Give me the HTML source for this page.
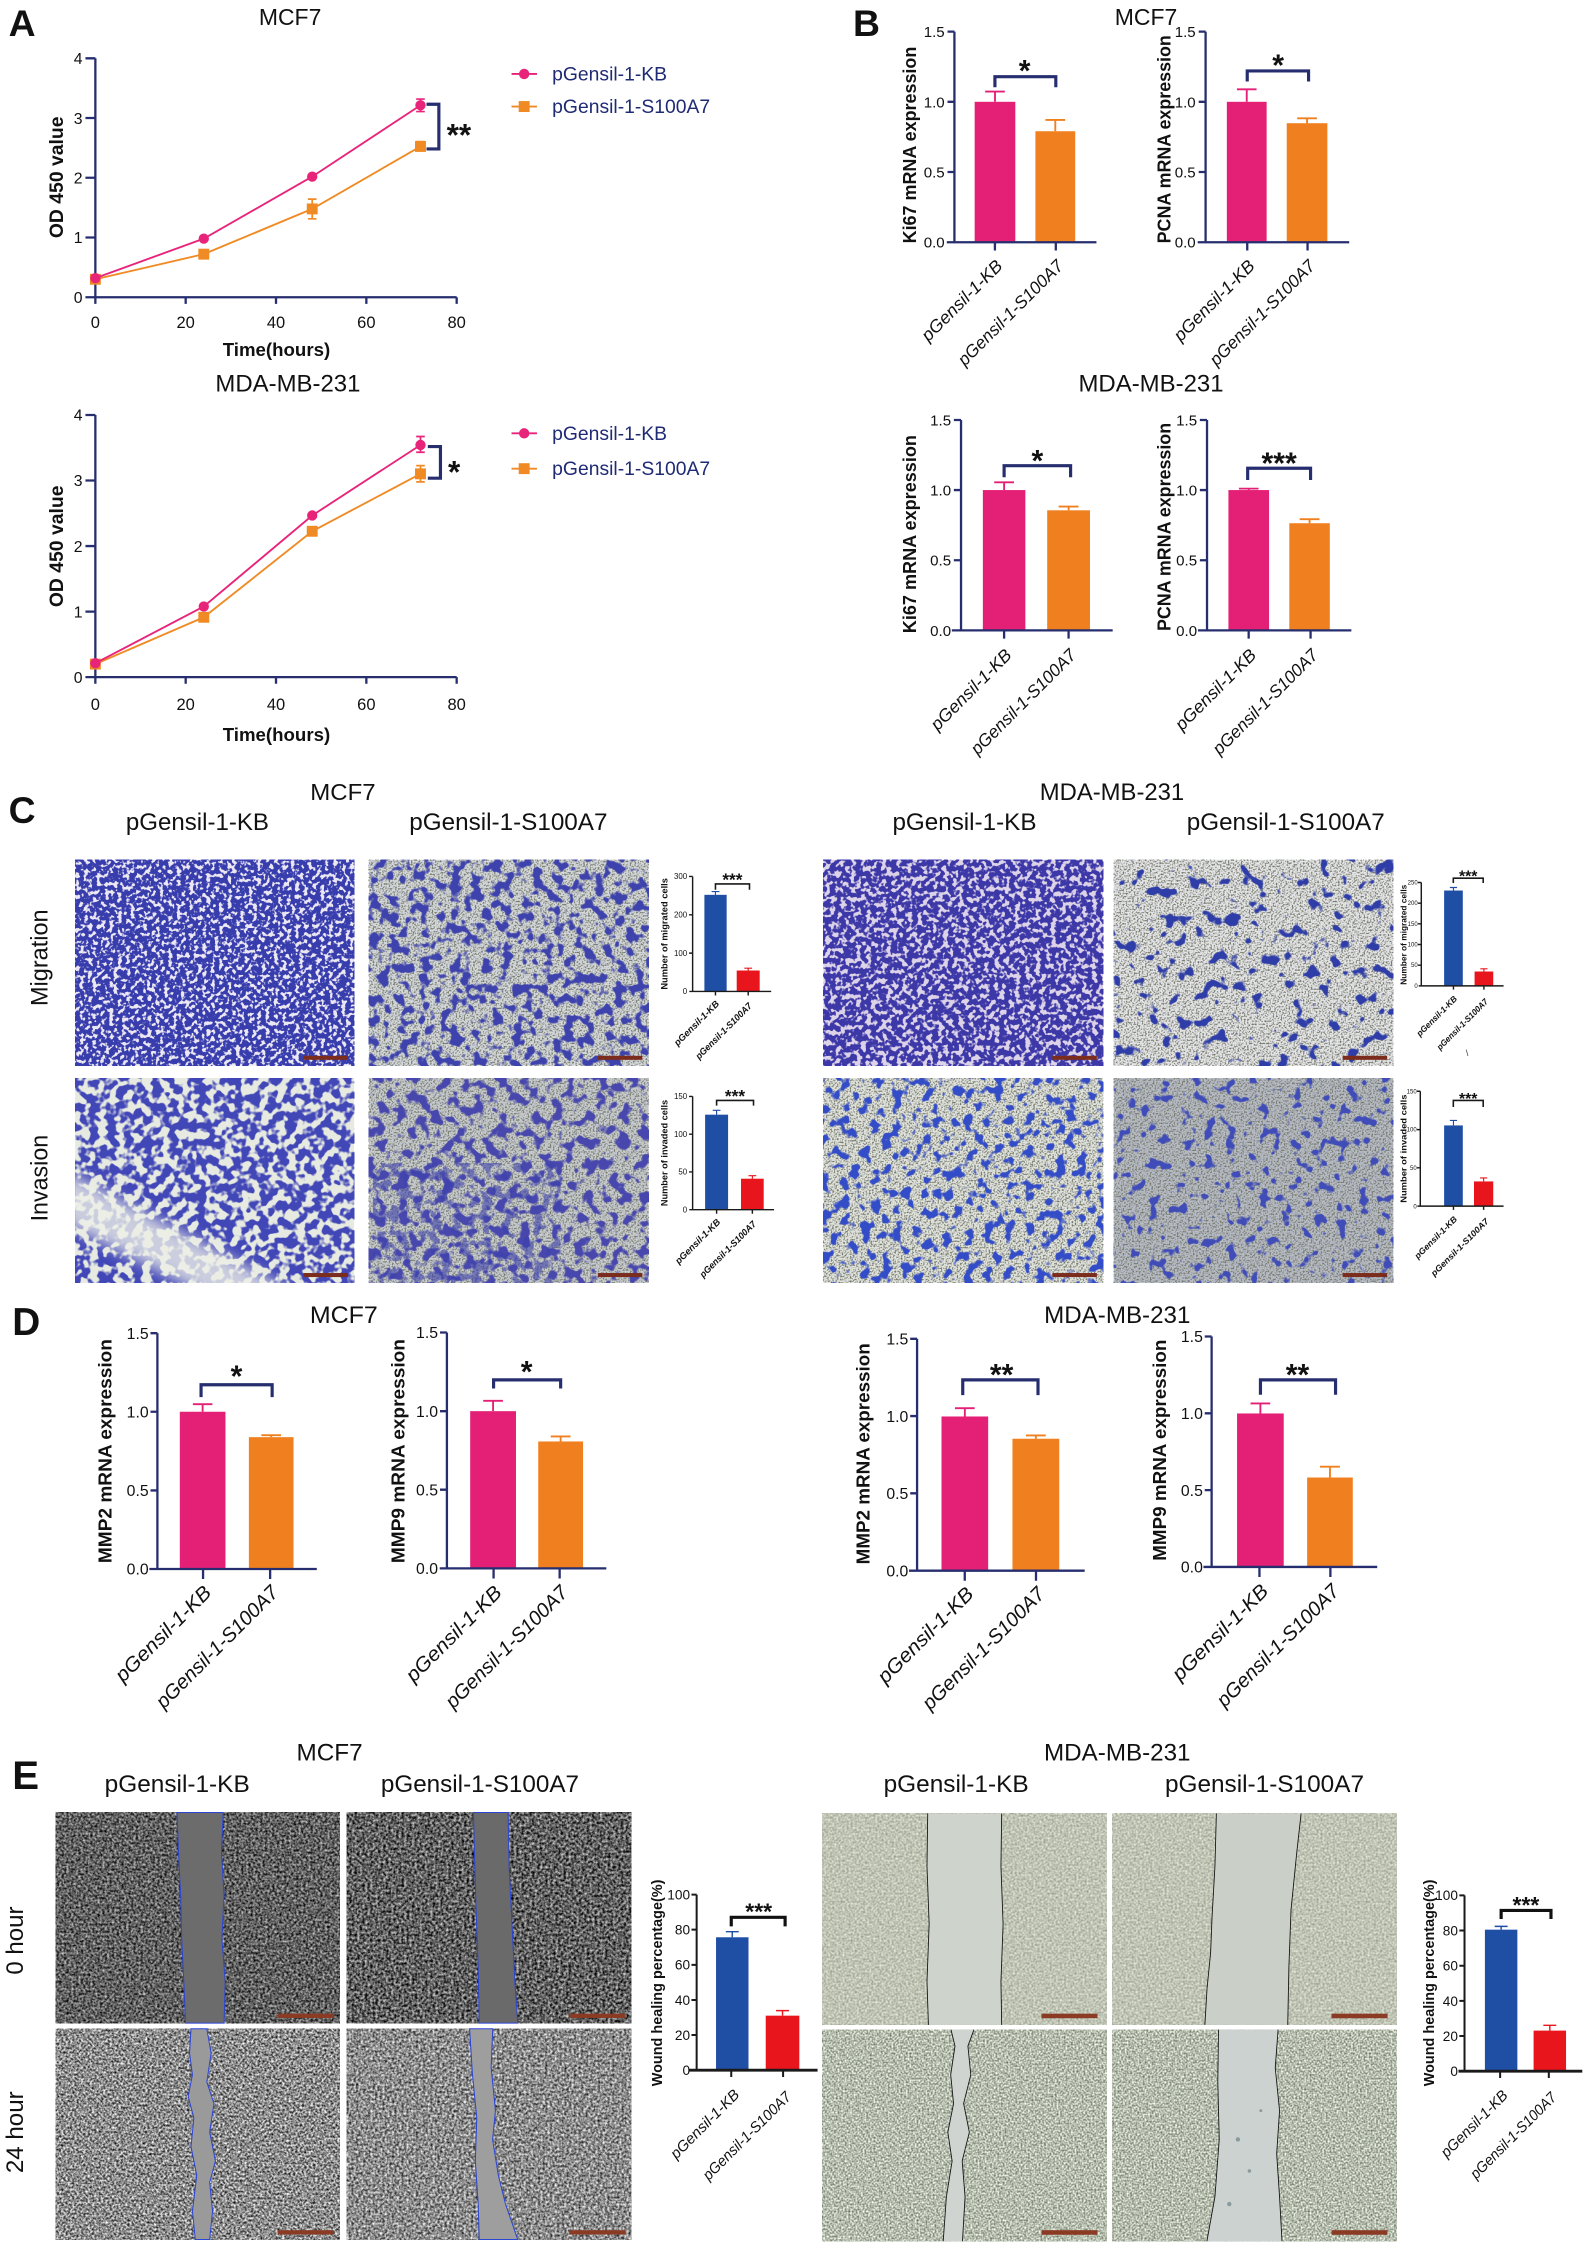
<!DOCTYPE html>
<html><head><meta charset="utf-8">
<style>
html,body{margin:0;padding:0;background:#fff;}
svg{display:block;}
text{font-family:"Liberation Sans",Arial,sans-serif;fill:#111;}
.ax{stroke:#272e6f;stroke-width:1.6;fill:none;}
.axk{stroke:#1a1a1a;stroke-width:1;fill:none;}
.axe{stroke:#1a1a1a;stroke-width:1.4;fill:none;}
.br{stroke:#272e6f;stroke-width:2.2;fill:none;}
.brk{stroke:#1a1a1a;stroke-width:1.1;fill:none;}
.bre{stroke:#111;stroke-width:2.2;fill:none;}
.tk{font-size:11px;}
.tkb{font-size:10.5px;}
.tkm{font-size:5.5px;}
.tke{font-size:9.5px;}
.yl{font-size:13px;font-weight:bold;}
.ylm{font-size:6.5px;font-weight:bold;}
.yle{font-size:10px;font-weight:bold;}
.xl{font-size:12.2px;font-style:italic;}
.xld{font-size:14px;font-style:italic;}
.xlm{font-size:6.5px;font-style:italic;font-weight:bold;}
.xle{font-size:10.5px;font-style:italic;}
.st{font-size:22px;font-weight:bold;}
.st21{font-size:21px;font-weight:bold;}
.st12{font-size:12px;font-weight:bold;}
.st16{font-size:16px;font-weight:bold;}
.ttl{font-size:16.5px;}
.hd{font-size:16.5px;}
.lt{font-size:16.5px;}
.pl{font-size:26px;font-weight:bold;}
.lg{font-size:13.5px;fill:#1f2a74;}
.ab{font-size:13px;font-weight:bold;}
</style></head><body>
<svg width="1584" height="2250" viewBox="0 0 1103 1567" preserveAspectRatio="none" xmlns="http://www.w3.org/2000/svg">
<defs>
<filter id="fA" x="0" y="0" width="1" height="1" color-interpolation-filters="sRGB"><feTurbulence type="fractalNoise" baseFrequency="0.34" numOctaves="2" seed="4"/><feColorMatrix type="matrix" values="0 0 0 0 0.22 0 0 0 0 0.24 0 0 0 0 0.68 10 0 0 0 -3.85"/></filter>
<filter id="fB" x="0" y="0" width="1" height="1" color-interpolation-filters="sRGB"><feTurbulence type="fractalNoise" baseFrequency="0.28" numOctaves="2" seed="8"/><feColorMatrix type="matrix" values="0 0 0 0 0.24 0 0 0 0 0.22 0 0 0 0 0.66 10 0 0 0 -4.0"/></filter>
<filter id="fC" x="0" y="0" width="1" height="1" color-interpolation-filters="sRGB"><feTurbulence type="fractalNoise" baseFrequency="0.16" numOctaves="2" seed="11"/><feColorMatrix type="matrix" values="0 0 0 0 0.26 0 0 0 0 0.28 0 0 0 0 0.72 9 0 0 0 -3.9"/></filter>
<filter id="fD" x="0" y="0" width="1" height="1" color-interpolation-filters="sRGB"><feTurbulence type="fractalNoise" baseFrequency="0.14" numOctaves="2" seed="3"/><feColorMatrix type="matrix" values="0 0 0 0 0.24 0 0 0 0 0.26 0 0 0 0 0.68 10 0 0 0 -5.1"/></filter>
<filter id="fE" x="0" y="0" width="1" height="1" color-interpolation-filters="sRGB"><feTurbulence type="fractalNoise" baseFrequency="0.13" numOctaves="2" seed="21"/><feColorMatrix type="matrix" values="0 0 0 0 0.28 0 0 0 0 0.28 0 0 0 0 0.68 10 0 0 0 -5.2"/></filter>
<filter id="fF" x="0" y="0" width="1" height="1" color-interpolation-filters="sRGB"><feTurbulence type="fractalNoise" baseFrequency="0.11" numOctaves="2" seed="5"/><feColorMatrix type="matrix" values="0 0 0 0 0.18 0 0 0 0 0.24 0 0 0 0 0.66 14 0 0 0 -8.5"/></filter>
<filter id="fG" x="0" y="0" width="1" height="1" color-interpolation-filters="sRGB"><feTurbulence type="fractalNoise" baseFrequency="0.14" numOctaves="2" seed="9"/><feColorMatrix type="matrix" values="0 0 0 0 0.20 0 0 0 0 0.30 0 0 0 0 0.78 11 0 0 0 -6.0"/></filter>
<filter id="fH" x="0" y="0" width="1" height="1" color-interpolation-filters="sRGB"><feTurbulence type="fractalNoise" baseFrequency="0.13" numOctaves="2" seed="13"/><feColorMatrix type="matrix" values="0 0 0 0 0.25 0 0 0 0 0.30 0 0 0 0 0.72 13 0 0 0 -7.8"/></filter>
<filter id="fS" x="0" y="0" width="1" height="1" color-interpolation-filters="sRGB"><feTurbulence type="fractalNoise" baseFrequency="0.9" numOctaves="1" seed="2"/><feColorMatrix type="matrix" values="0 0 0 0 0.45 0 0 0 0 0.47 0 0 0 0 0.42 4 0 0 0 -1.8"/></filter>
<filter id="fE1" x="0" y="0" width="1" height="1" color-interpolation-filters="sRGB"><feTurbulence type="fractalNoise" baseFrequency="0.6" numOctaves="2" seed="6"/><feColorMatrix type="matrix" values="1.2 0 0 0 -0.22 1.2 0 0 0 -0.22 1.2 0 0 0 -0.22 0 0 0 0 1"/></filter>
<filter id="fE1b" x="0" y="0" width="1" height="1" color-interpolation-filters="sRGB"><feTurbulence type="fractalNoise" baseFrequency="0.55" numOctaves="2" seed="16"/><feColorMatrix type="matrix" values="1.3 0 0 0 -0.27 1.3 0 0 0 -0.27 1.3 0 0 0 -0.27 0 0 0 0 1"/></filter>
<filter id="fE2" x="0" y="0" width="1" height="1" color-interpolation-filters="sRGB"><feTurbulence type="fractalNoise" baseFrequency="0.65" numOctaves="2" seed="7"/><feColorMatrix type="matrix" values="1.5 0 0 0 -0.2 1.5 0 0 0 -0.2 1.5 0 0 0 -0.2 0 0 0 0 1"/></filter>
<filter id="fE2b" x="0" y="0" width="1" height="1" color-interpolation-filters="sRGB"><feTurbulence type="fractalNoise" baseFrequency="0.6" numOctaves="2" seed="17"/><feColorMatrix type="matrix" values="1.3 0 0 0 -0.1 1.3 0 0 0 -0.1 1.3 0 0 0 -0.1 0 0 0 0 1"/></filter>
<filter id="fM1" x="0" y="0" width="1" height="1" color-interpolation-filters="sRGB"><feTurbulence type="fractalNoise" baseFrequency="0.7" numOctaves="1" seed="8"/><feColorMatrix type="matrix" values="0.5 0 0 0 0.50 0.5 0 0 0 0.52 0.5 0 0 0 0.46 0 0 0 0 1"/></filter>
<filter id="fM2" x="0" y="0" width="1" height="1" color-interpolation-filters="sRGB"><feTurbulence type="fractalNoise" baseFrequency="0.8" numOctaves="1" seed="10"/><feColorMatrix type="matrix" values="1.0 0 0 0 0.21 1.0 0 0 0 0.24 1.0 0 0 0 0.18 0 0 0 0 1"/></filter>
<filter id="blur5"><feGaussianBlur stdDeviation="5"/></filter>
<clipPath id="cpC5"><rect x="52.3" y="750.8" width="194.3" height="142.7"/></clipPath>
</defs>

<!-- ============ PANEL A ============ -->
<text class="pl" x="6" y="25">A</text>
<text class="ttl" x="202" y="17.4" text-anchor="middle" style="font-size:16px">MCF7</text>
<path class="ax" d="M66.4,40.6 V207 M59.5,207 H318 M59.5,40.6 H66.4 M59.5,82.2 H66.4 M59.5,123.8 H66.4 M59.5,165.4 H66.4 M66.4,207 V211.6 M129.3,207 V211.6 M192.2,207 V211.6 M255.1,207 V211.6 M318,207 V211.6"/>
<g class="tk" text-anchor="end"><text x="57.5" y="44.6">4</text><text x="57.5" y="86.2">3</text><text x="57.5" y="127.8">2</text><text x="57.5" y="169.4">1</text><text x="57.5" y="211">0</text></g>
<g class="tk" text-anchor="middle" style="font-size:11.5px"><text x="66.4" y="228.5">0</text><text x="129.3" y="228.5">20</text><text x="192.2" y="228.5">40</text><text x="255.1" y="228.5">60</text><text x="318" y="228.5">80</text></g>
<text class="ab" x="192.5" y="248" text-anchor="middle">Time(hours)</text>
<text class="ab" transform="translate(44,123.5) rotate(-90)" text-anchor="middle" style="font-size:13.5px">OD 450 value</text>
<polyline points="66.4,194.5 141.9,177 217.4,145.5 292.8,102" fill="none" stroke="#f08a24" stroke-width="1.3"/>
<path d="M217.4,138.7 V152.4 M214.4,138.7 H220.4 M214.4,152.4 H220.4 M292.8,98.6 V105.6 M289.8,98.6 H295.8" stroke="#f08a24" stroke-width="1.2" fill="none"/>
<g fill="#f08a24"><rect x="62.6" y="190.7" width="7.6" height="7.6"/><rect x="138.1" y="173.2" width="7.6" height="7.6"/><rect x="213.6" y="141.7" width="7.6" height="7.6"/><rect x="289" y="98.2" width="7.6" height="7.6"/></g>
<polyline points="66.4,193.7 141.9,166.2 217.4,123 292.8,73.3" fill="none" stroke="#e8237a" stroke-width="1.3"/>
<path d="M292.8,69 V77.7 M289.8,69 H295.8 M289.8,77.7 H295.8" stroke="#e8237a" stroke-width="1.2" fill="none"/>
<g fill="#e8237a"><circle cx="66.4" cy="193.7" r="3.6"/><circle cx="141.9" cy="166.2" r="3.6"/><circle cx="217.4" cy="123" r="3.6"/><circle cx="292.8" cy="73.3" r="3.6"/></g>
<path class="br" d="M297,72.6 H305.6 V103.7 H297"/>
<text class="st" x="311" y="101.5">**</text>
<path d="M356.2,51.5 H373.9" stroke="#e8237a" stroke-width="1.3"/><circle cx="365" cy="51.5" r="3.6" fill="#e8237a"/>
<text class="lg" x="384.5" y="56" textLength="80" lengthAdjust="spacingAndGlyphs">pGensil-1-KB</text>
<path d="M356.2,74.2 H373.9" stroke="#f08a24" stroke-width="1.3"/><rect x="361.2" y="70.4" width="7.6" height="7.6" fill="#f08a24"/>
<text class="lg" x="384.5" y="78.7" textLength="110" lengthAdjust="spacingAndGlyphs">pGensil-1-S100A7</text>

<text class="ttl" x="200.5" y="272.8" text-anchor="middle" textLength="101" lengthAdjust="spacingAndGlyphs">MDA-MB-231</text>
<path class="ax" d="M66.4,289 V471.6 M59.5,471.6 H318 M59.5,289 H66.4 M59.5,334.65 H66.4 M59.5,380.3 H66.4 M59.5,425.95 H66.4 M66.4,471.6 V476.2 M129.3,471.6 V476.2 M192.2,471.6 V476.2 M255.1,471.6 V476.2 M318,471.6 V476.2"/>
<g class="tk" text-anchor="end"><text x="57.5" y="293">4</text><text x="57.5" y="338.6">3</text><text x="57.5" y="384.3">2</text><text x="57.5" y="430">1</text><text x="57.5" y="475.6">0</text></g>
<g class="tk" text-anchor="middle" style="font-size:11.5px"><text x="66.4" y="494.4">0</text><text x="129.3" y="494.4">20</text><text x="192.2" y="494.4">40</text><text x="255.1" y="494.4">60</text><text x="318" y="494.4">80</text></g>
<text class="ab" x="192.5" y="516" text-anchor="middle">Time(hours)</text>
<text class="ab" transform="translate(44,380.5) rotate(-90)" text-anchor="middle" style="font-size:13.5px">OD 450 value</text>
<polyline points="66.4,462.5 141.9,429.9 217.4,370 292.8,330" fill="none" stroke="#f08a24" stroke-width="1.3"/>
<path d="M292.8,324.3 V335.6 M289.8,324.3 H295.8 M289.8,335.6 H295.8" stroke="#f08a24" stroke-width="1.2" fill="none"/>
<g fill="#f08a24"><rect x="62.6" y="458.7" width="7.6" height="7.6"/><rect x="138.1" y="426.1" width="7.6" height="7.6"/><rect x="213.6" y="366.2" width="7.6" height="7.6"/><rect x="289" y="326.2" width="7.6" height="7.6"/></g>
<polyline points="66.4,461.9 141.9,422.4 217.4,359 292.8,309.9" fill="none" stroke="#e8237a" stroke-width="1.3"/>
<path d="M292.8,304 V315 M289.8,304 H295.8 M289.8,315 H295.8" stroke="#e8237a" stroke-width="1.2" fill="none"/>
<g fill="#e8237a"><circle cx="66.4" cy="461.9" r="3.6"/><circle cx="141.9" cy="422.4" r="3.6"/><circle cx="217.4" cy="359" r="3.6"/><circle cx="292.8" cy="309.9" r="3.6"/></g>
<path class="br" d="M297.9,311 H306.7 V333 H297.9"/>
<text class="st" x="316.2" y="336" text-anchor="middle">*</text>
<path d="M356.2,301.8 H373.9" stroke="#e8237a" stroke-width="1.3"/><circle cx="365" cy="301.8" r="3.6" fill="#e8237a"/>
<text class="lg" x="384.5" y="306.3" textLength="80" lengthAdjust="spacingAndGlyphs">pGensil-1-KB</text>
<path d="M356.2,326.4 H373.9" stroke="#f08a24" stroke-width="1.3"/><rect x="361.2" y="322.6" width="7.6" height="7.6" fill="#f08a24"/>
<text class="lg" x="384.5" y="330.9" textLength="110" lengthAdjust="spacingAndGlyphs">pGensil-1-S100A7</text>

<!-- ============ PANEL B ============ -->
<text class="pl" x="594" y="25">B</text>
<text class="ttl" x="798" y="17.4" text-anchor="middle" style="font-size:16px">MCF7</text>
<rect x="678.7" y="70.9" width="28.3" height="97.8" fill="#e41f76"/>
<path d="M692.85,70.9 V63.8 M686,63.8 H699.7" stroke="#e41f76" stroke-width="1.3"/>
<rect x="721" y="91.4" width="27.7" height="77.3" fill="#f0801f"/>
<path d="M734.85,91.4 V83.5 M728,83.5 H741.7" stroke="#f0801f" stroke-width="1.3"/>
<path class="ax" d="M664.6,22 V168.7 M659.3,168.7 H763.5 M659.8,22 H664.6 M659.8,70.9 H664.6 M659.8,119.8 H664.6 M692.8,168.7 V174.5 M735.2,168.7 V174.5"/>
<path class="br" d="M692.8,60.8 V53.4 H735.2 V60.8"/>
<text class="st21" x="713.5" y="56.3" text-anchor="middle">*</text>
<g class="tkb" text-anchor="end"><text x="657.8" y="25.8">1.5</text><text x="657.8" y="74.7">1.0</text><text x="657.8" y="123.6">0.5</text><text x="657.8" y="172.5">0.0</text></g>
<text class="yl" transform="translate(638,101) rotate(-90)" text-anchor="middle" textLength="137" lengthAdjust="spacingAndGlyphs">Ki67 mRNA expression</text>
<text class="xl" transform="translate(698.8,186) rotate(-45)" text-anchor="end" textLength="74" lengthAdjust="spacingAndGlyphs">pGensil-1-KB</text>
<text class="xl" transform="translate(741.2,186) rotate(-45)" text-anchor="end" textLength="98" lengthAdjust="spacingAndGlyphs">pGensil-1-S100A7</text>
<rect x="854.3" y="70.9" width="27.7" height="97.8" fill="#e41f76"/>
<path d="M868.15,70.9 V62.2 M861.3,62.2 H875" stroke="#e41f76" stroke-width="1.3"/>
<rect x="896" y="85.8" width="28.3" height="82.9" fill="#f0801f"/>
<path d="M910.15,85.8 V82.4 M903.3,82.4 H917" stroke="#f0801f" stroke-width="1.3"/>
<path class="ax" d="M839.5,22 V168.7 M834,168.7 H939.5 M834.7,22 H839.5 M834.7,70.9 H839.5 M834.7,119.8 H839.5 M868.5,168.7 V174.5 M910.5,168.7 V174.5"/>
<path class="br" d="M868.5,56.8 V49.4 H911.2 V56.8"/>
<text class="st21" x="890" y="52.7" text-anchor="middle">*</text>
<g class="tkb" text-anchor="end"><text x="832.6" y="25.8">1.5</text><text x="832.6" y="74.7">1.0</text><text x="832.6" y="123.6">0.5</text><text x="832.6" y="172.5">0.0</text></g>
<text class="yl" transform="translate(815,97) rotate(-90)" text-anchor="middle" textLength="145" lengthAdjust="spacingAndGlyphs">PCNA mRNA expression</text>
<text class="xl" transform="translate(874.5,186) rotate(-45)" text-anchor="end" textLength="74" lengthAdjust="spacingAndGlyphs">pGensil-1-KB</text>
<text class="xl" transform="translate(916.5,186) rotate(-45)" text-anchor="end" textLength="98" lengthAdjust="spacingAndGlyphs">pGensil-1-S100A7</text>

<text class="ttl" x="801.5" y="272.8" text-anchor="middle" textLength="101" lengthAdjust="spacingAndGlyphs">MDA-MB-231</text>
<rect x="684.4" y="341.3" width="29.6" height="97.7" fill="#e41f76"/>
<path d="M699.2,341.3 V335.9 M692.3,335.9 H706.1" stroke="#e41f76" stroke-width="1.3"/>
<rect x="729.2" y="355.4" width="29.8" height="83.6" fill="#f0801f"/>
<path d="M744.1,355.4 V352.8 M737.2,352.8 H751" stroke="#f0801f" stroke-width="1.3"/>
<path class="ax" d="M669.2,292.5 V439 M662.8,439 H774.8 M664.2,292.5 H669.2 M664.2,341.3 H669.2 M664.2,390.2 H669.2 M699.2,439 V444.8 M744.1,439 V444.8"/>
<path class="br" d="M699.2,332.4 V324.3 H745.5 V332.4"/>
<text class="st21" x="722.4" y="327.9" text-anchor="middle">*</text>
<g class="tkb" text-anchor="end"><text x="662.3" y="296.3">1.5</text><text x="662.3" y="345.1">1.0</text><text x="662.3" y="394">0.5</text><text x="662.3" y="442.8">0.0</text></g>
<text class="yl" transform="translate(638,372) rotate(-90)" text-anchor="middle" textLength="138" lengthAdjust="spacingAndGlyphs">Ki67 mRNA expression</text>
<text class="xl" transform="translate(705.2,457) rotate(-45)" text-anchor="end" textLength="74" lengthAdjust="spacingAndGlyphs">pGensil-1-KB</text>
<text class="xl" transform="translate(750.1,457) rotate(-45)" text-anchor="end" textLength="98" lengthAdjust="spacingAndGlyphs">pGensil-1-S100A7</text>
<rect x="855.4" y="341.3" width="28.3" height="97.7" fill="#e41f76"/>
<path d="M869.55,341.3 V340.3 M862.7,340.3 H876.4" stroke="#e41f76" stroke-width="1.3"/>
<rect x="897.8" y="364.4" width="28.2" height="74.6" fill="#f0801f"/>
<path d="M911.9,364.4 V361.6 M905,361.6 H918.8" stroke="#f0801f" stroke-width="1.3"/>
<path class="ax" d="M840.5,292.5 V439 M834.2,439 H941 M835.5,292.5 H840.5 M835.5,341.3 H840.5 M835.5,390.2 H840.5 M869.5,439 V444.8 M912.6,439 V444.8"/>
<path class="br" d="M868.8,334.3 V326.1 H912.6 V334.3"/>
<text class="st21" x="890.7" y="329.6" text-anchor="middle">***</text>
<g class="tkb" text-anchor="end"><text x="833.6" y="296.3">1.5</text><text x="833.6" y="345.1">1.0</text><text x="833.6" y="394">0.5</text><text x="833.6" y="442.8">0.0</text></g>
<text class="yl" transform="translate(815,367) rotate(-90)" text-anchor="middle" textLength="145" lengthAdjust="spacingAndGlyphs">PCNA mRNA expression</text>
<text class="xl" transform="translate(875.5,457) rotate(-45)" text-anchor="end" textLength="74" lengthAdjust="spacingAndGlyphs">pGensil-1-KB</text>
<text class="xl" transform="translate(918.6,457) rotate(-45)" text-anchor="end" textLength="98" lengthAdjust="spacingAndGlyphs">pGensil-1-S100A7</text>

<!-- ============ PANEL C ============ -->
<text class="pl" x="6" y="573.3">C</text>
<text class="ttl" x="238.8" y="557" text-anchor="middle" style="font-size:16px" textLength="45.5" lengthAdjust="spacingAndGlyphs">MCF7</text>
<text class="ttl" x="774.3" y="557" text-anchor="middle" textLength="100.6" lengthAdjust="spacingAndGlyphs">MDA-MB-231</text>
<text class="hd" x="137.5" y="578" text-anchor="middle" textLength="99.6" lengthAdjust="spacingAndGlyphs">pGensil-1-KB</text>
<text class="hd" x="354" y="578" text-anchor="middle" textLength="138" lengthAdjust="spacingAndGlyphs">pGensil-1-S100A7</text>
<text class="hd" x="671.6" y="578" text-anchor="middle" textLength="100.3" lengthAdjust="spacingAndGlyphs">pGensil-1-KB</text>
<text class="hd" x="895.3" y="578" text-anchor="middle" textLength="137.8" lengthAdjust="spacingAndGlyphs">pGensil-1-S100A7</text>
<text class="lt" transform="translate(33,667) rotate(-90)" text-anchor="middle" textLength="67.3" lengthAdjust="spacingAndGlyphs">Migration</text>
<text class="lt" transform="translate(33,820.5) rotate(-90)" text-anchor="middle" textLength="60.3" lengthAdjust="spacingAndGlyphs">Invasion</text>

<rect x="52.3" y="598.8" width="194.3" height="143.4" fill="#ebe7f3"/>
<rect x="52.3" y="598.8" width="194.3" height="143.4" filter="url(#fA)"/>
<rect x="256.9" y="598.8" width="194.7" height="143.4" fill="#d6d9dc"/>
<rect x="256.9" y="598.8" width="194.7" height="143.4" filter="url(#fS)"/>
<rect x="256.9" y="598.8" width="194.7" height="143.4" filter="url(#fD)"/>
<rect x="573.4" y="598.8" width="194.7" height="143.4" fill="#dcd3e8"/>
<rect x="573.4" y="598.8" width="194.7" height="143.4" filter="url(#fB)"/>
<rect x="775.5" y="598.8" width="194.7" height="143.4" fill="#e6e6e8"/>
<rect x="775.5" y="598.8" width="194.7" height="143.4" filter="url(#fS)"/>
<rect x="775.5" y="598.8" width="194.7" height="143.4" filter="url(#fF)"/>
<rect x="52.3" y="750.8" width="194.3" height="142.7" fill="#e6eae0"/>
<rect x="52.3" y="750.8" width="194.3" height="142.7" filter="url(#fC)"/>
<g clip-path="url(#cpC5)"><polygon points="40,812 40,850 150,905 215,905" fill="#eef0e8" opacity="0.8" filter="url(#blur5)"/></g>
<rect x="256.9" y="750.8" width="194.7" height="142.7" fill="#c9ccd0"/>
<rect x="256.9" y="750.8" width="194.7" height="142.7" filter="url(#fS)"/>
<rect x="256.9" y="750.8" width="194.7" height="142.7" filter="url(#fE)"/>
<rect x="260" y="810" width="130" height="83.5" filter="url(#fD)" opacity="0.6"/>
<rect x="573.4" y="750.8" width="194.7" height="142.7" fill="#e2e4de"/>
<rect x="573.4" y="750.8" width="194.7" height="142.7" filter="url(#fS)"/>
<rect x="573.4" y="750.8" width="194.7" height="142.7" filter="url(#fG)"/>
<rect x="775.5" y="750.8" width="194.7" height="142.7" fill="#b8bcc6"/>
<rect x="775.5" y="750.8" width="194.7" height="142.7" filter="url(#fS)"/>
<rect x="775.5" y="750.8" width="194.7" height="142.7" filter="url(#fH)"/>
<g fill="#7b2c1c"><rect x="211.3" y="735.3" width="31" height="2.8"/><rect x="416.3" y="735.3" width="31" height="2.8"/><rect x="732.8" y="735.3" width="31" height="2.8"/><rect x="934.9" y="735.3" width="31" height="2.8"/><rect x="211.3" y="886.6" width="31" height="2.8"/><rect x="416.3" y="886.6" width="31" height="2.8"/><rect x="732.8" y="886.6" width="31" height="2.8"/><rect x="934.9" y="886.6" width="31" height="2.8"/></g>

<!-- C mini 1 -->
<rect x="490.5" y="623.2" width="15.5" height="67.3" fill="#1f4ea5"/>
<path d="M498.2,623.2 V620.9 M495.5,620.9 H501" stroke="#1f4ea5" stroke-width="0.8"/>
<rect x="513" y="675.9" width="16" height="14.6" fill="#e8161c"/>
<path d="M521,675.9 V674.3 M518.3,674.3 H523.7" stroke="#e8161c" stroke-width="0.8"/>
<path class="axk" d="M482.3,610.4 V690.5 M480,690.5 H537 M479.8,610.4 H482.3 M479.8,637.1 H482.3 M479.8,663.8 H482.3 M498.2,690.5 V693.3 M521,690.5 V693.3"/>
<path class="brk" d="M498.2,619.7 V615.6 H521.9 V619.7"/>
<text class="st12" x="510" y="616.8" text-anchor="middle">***</text>
<g class="tkm" text-anchor="end"><text x="478.5" y="612.3">300</text><text x="478.5" y="639">200</text><text x="478.5" y="665.7">100</text><text x="478.5" y="692.4">0</text></g>
<text class="ylm" transform="translate(464.7,650.4) rotate(-90)" text-anchor="middle" textLength="77.7" lengthAdjust="spacingAndGlyphs">Number of migrated cells</text>
<text class="xlm" transform="translate(501.2,699.5) rotate(-45)" text-anchor="end" textLength="41.4" lengthAdjust="spacingAndGlyphs">pGensil-1-KB</text>
<text class="xlm" transform="translate(524,701) rotate(-45)" text-anchor="end" textLength="52.5" lengthAdjust="spacingAndGlyphs">pGensil-1-S100A7</text>
<!-- C mini 2 -->
<rect x="491" y="776.3" width="16" height="66.2" fill="#1f4ea5"/>
<path d="M499,776.3 V773.3 M496.3,773.3 H501.7" stroke="#1f4ea5" stroke-width="0.8"/>
<rect x="516" y="820.9" width="15.8" height="21.6" fill="#e8161c"/>
<path d="M523.9,820.9 V818.8 M521.2,818.8 H526.6" stroke="#e8161c" stroke-width="0.8"/>
<path class="axk" d="M482.3,763.6 V842.5 M480,842.5 H539 M479.8,763.6 H482.3 M479.8,789.9 H482.3 M479.8,816.2 H482.3 M499,842.5 V845.3 M523.9,842.5 V845.3"/>
<path class="brk" d="M499,770 V766.4 H524.7 V770"/>
<text class="st12" x="511.8" y="767.5" text-anchor="middle">***</text>
<g class="tkm" text-anchor="end"><text x="478.5" y="765.5">150</text><text x="478.5" y="791.8">100</text><text x="478.5" y="818.1">50</text><text x="478.5" y="844.4">0</text></g>
<text class="ylm" transform="translate(464.7,803) rotate(-90)" text-anchor="middle" textLength="74" lengthAdjust="spacingAndGlyphs">Number of invaded cells</text>
<text class="xlm" transform="translate(502,851.5) rotate(-45)" text-anchor="end" textLength="41.4" lengthAdjust="spacingAndGlyphs">pGensil-1-KB</text>
<text class="xlm" transform="translate(526.9,853) rotate(-45)" text-anchor="end" textLength="52.5" lengthAdjust="spacingAndGlyphs">pGensil-1-S100A7</text>
<!-- C mini 3 -->
<rect x="1005.6" y="620.2" width="13" height="66.4" fill="#1f4ea5"/>
<path d="M1012.1,620.2 V618.1 M1009.6,618.1 H1014.6" stroke="#1f4ea5" stroke-width="0.8"/>
<rect x="1026.8" y="676.6" width="13" height="10" fill="#e8161c"/>
<path d="M1033.3,676.6 V674.7 M1030.8,674.7 H1035.8" stroke="#e8161c" stroke-width="0.8"/>
<path class="axk" d="M989.7,614.6 V686.6 M987.9,686.6 H1047 M987.4,614.6 H989.7 M987.4,629 H989.7 M987.4,643.4 H989.7 M987.4,657.8 H989.7 M987.4,672.2 H989.7 M1012.1,686.6 V689.2 M1033.3,686.6 V689.2"/>
<path class="brk" d="M1012,615 V611.6 H1032.8 V615"/>
<text class="st12" x="1022.4" y="614" text-anchor="middle" style="font-size:11px">***</text>
<g class="tkm" text-anchor="end" style="font-size:4.2px"><text x="987.2" y="616">250</text><text x="987.2" y="630.4">200</text><text x="987.2" y="644.8">150</text><text x="987.2" y="659.2">100</text><text x="987.2" y="673.6">50</text><text x="987.2" y="688">0</text></g>
<text class="ylm" transform="translate(979.3,651) rotate(-90)" text-anchor="middle" textLength="69.7" lengthAdjust="spacingAndGlyphs" style="font-size:6px">Number of migrated cells</text>
<text class="xlm" transform="translate(1015,696) rotate(-45)" text-anchor="end" textLength="37" lengthAdjust="spacingAndGlyphs" style="font-size:6px">pGensil-1-KB</text>
<text class="xlm" transform="translate(1036.5,698) rotate(-45)" text-anchor="end" textLength="47.5" lengthAdjust="spacingAndGlyphs" style="font-size:6px">pGensil-1-S100A7</text>
<path d="M1021,731 L1022.2,735.5" stroke="#444" stroke-width="0.5"/>
<!-- C mini 4 -->
<rect x="1005.6" y="783.8" width="13" height="56.2" fill="#1f4ea5"/>
<path d="M1012.1,783.8 V780.3 M1009.6,780.3 H1014.6" stroke="#1f4ea5" stroke-width="0.8"/>
<rect x="1026.4" y="822.8" width="13.4" height="17.2" fill="#e8161c"/>
<path d="M1033.1,822.8 V820.4 M1030.6,820.4 H1035.6" stroke="#e8161c" stroke-width="0.8"/>
<path class="axk" d="M989,760 V840 M987,840 H1047 M986.7,760 H989 M986.7,786.7 H989 M986.7,813.3 H989 M1012.1,840 V842.6 M1033.1,840 V842.6"/>
<path class="brk" d="M1012,771 V766.4 H1032.8 V771"/>
<text class="st12" x="1022.4" y="769" text-anchor="middle" style="font-size:11px">***</text>
<g class="tkm" text-anchor="end" style="font-size:4.2px"><text x="986.5" y="761.5">150</text><text x="986.5" y="788.2">100</text><text x="986.5" y="814.8">50</text><text x="986.5" y="841.5">0</text></g>
<text class="ylm" transform="translate(979.3,800) rotate(-90)" text-anchor="middle" textLength="75.4" lengthAdjust="spacingAndGlyphs" style="font-size:6px">Number of invaded cells</text>
<text class="xlm" transform="translate(1015,849.5) rotate(-45)" text-anchor="end" textLength="39" lengthAdjust="spacingAndGlyphs" style="font-size:6px">pGensil-1-KB</text>
<text class="xlm" transform="translate(1037,851) rotate(-45)" text-anchor="end" textLength="54" lengthAdjust="spacingAndGlyphs" style="font-size:6px">pGensil-1-S100A7</text>

<!-- ============ PANEL D ============ -->
<text class="pl" x="8.5" y="929.6" style="font-size:27px">D</text>
<text class="ttl" x="239.4" y="921.5" text-anchor="middle" textLength="47.3" lengthAdjust="spacingAndGlyphs">MCF7</text>
<text class="ttl" x="778" y="921.5" text-anchor="middle" textLength="101.8" lengthAdjust="spacingAndGlyphs">MDA-MB-231</text>
<rect x="125.2" y="983.2" width="31.8" height="109.5" fill="#e41f76"/>
<path d="M141.1,983.2 V977.9 M134.3,977.9 H147.9" stroke="#e41f76" stroke-width="1.3"/>
<rect x="173.3" y="1000.9" width="31.1" height="91.8" fill="#f0801f"/>
<path d="M188.85,1000.9 V999.5 M182,999.5 H195.7" stroke="#f0801f" stroke-width="1.3"/>
<path class="ax" d="M109.6,928.5 V1092.7 M104,1092.7 H220.6 M104.8,928.5 H109.6 M104.8,983.2 H109.6 M104.8,1038 H109.6 M141.4,1092.7 V1099.7 M188.1,1092.7 V1099.7"/>
<path class="br" d="M140,973 V964.4 H189.5 V973"/>
<text class="st21" x="164.7" y="965.6" text-anchor="middle">*</text>
<g class="tk" text-anchor="end"><text x="103.5" y="932.5">1.5</text><text x="103.5" y="987.2">1.0</text><text x="103.5" y="1042">0.5</text><text x="103.5" y="1096.7">0.0</text></g>
<text class="yl" transform="translate(77.8,1010.6) rotate(-90)" text-anchor="middle" textLength="156" lengthAdjust="spacingAndGlyphs">MMP2 mRNA expression</text>
<text class="xld" transform="translate(148,1110) rotate(-45)" text-anchor="end" textLength="88" lengthAdjust="spacingAndGlyphs">pGensil-1-KB</text>
<text class="xld" transform="translate(194.7,1110) rotate(-45)" text-anchor="end" textLength="114" lengthAdjust="spacingAndGlyphs">pGensil-1-S100A7</text>
<rect x="327.4" y="982.8" width="31.9" height="109.5" fill="#e41f76"/>
<path d="M343.35,982.8 V975.6 M336.5,975.6 H350.2" stroke="#e41f76" stroke-width="1.3"/>
<rect x="374.8" y="1003.9" width="31.2" height="88.4" fill="#f0801f"/>
<path d="M390.4,1003.9 V1000.4 M383.5,1000.4 H397.3" stroke="#f0801f" stroke-width="1.3"/>
<path class="ax" d="M311.2,928 V1092.3 M306.2,1092.3 H422.2 M306.4,928 H311.2 M306.4,982.8 H311.2 M306.4,1037.5 H311.2 M343.7,1092.3 V1099.3 M389.7,1092.3 V1099.3"/>
<path class="br" d="M343.7,967 V961 H390.4 V967"/>
<text class="st21" x="366.7" y="962.6" text-anchor="middle">*</text>
<g class="tk" text-anchor="end"><text x="305" y="932">1.5</text><text x="305" y="986.8">1.0</text><text x="305" y="1041.5">0.5</text><text x="305" y="1096.3">0.0</text></g>
<text class="yl" transform="translate(281.5,1010.6) rotate(-90)" text-anchor="middle" textLength="156" lengthAdjust="spacingAndGlyphs">MMP9 mRNA expression</text>
<text class="xld" transform="translate(350.3,1110) rotate(-45)" text-anchor="end" textLength="88" lengthAdjust="spacingAndGlyphs">pGensil-1-KB</text>
<text class="xld" transform="translate(396.3,1110) rotate(-45)" text-anchor="end" textLength="114" lengthAdjust="spacingAndGlyphs">pGensil-1-S100A7</text>
<rect x="655.6" y="986.5" width="32.5" height="107.4" fill="#e41f76"/>
<path d="M671.85,986.5 V980.7 M665,980.7 H678.7" stroke="#e41f76" stroke-width="1.3"/>
<rect x="705" y="1002" width="32.6" height="91.9" fill="#f0801f"/>
<path d="M721.3,1002 V999.7 M714.4,999.7 H728.2" stroke="#f0801f" stroke-width="1.3"/>
<path class="ax" d="M638.6,932.4 V1093.9 M633,1093.9 H755.3 M633.8,932.4 H638.6 M633.8,986.2 H638.6 M633.8,1040 H638.6 M671.8,1093.9 V1100.9 M721.4,1093.9 V1100.9"/>
<path class="br" d="M670.4,971.6 V961 H722.8 V971.6"/>
<text class="st21" x="697.5" y="964.5" text-anchor="middle">**</text>
<g class="tk" text-anchor="end"><text x="632.5" y="936.4">1.5</text><text x="632.5" y="990.2">1.0</text><text x="632.5" y="1044">0.5</text><text x="632.5" y="1097.9">0.0</text></g>
<text class="yl" transform="translate(605.4,1012.5) rotate(-90)" text-anchor="middle" textLength="154" lengthAdjust="spacingAndGlyphs">MMP2 mRNA expression</text>
<text class="xld" transform="translate(678.8,1111) rotate(-45)" text-anchor="end" textLength="88" lengthAdjust="spacingAndGlyphs">pGensil-1-KB</text>
<text class="xld" transform="translate(728.4,1111) rotate(-45)" text-anchor="end" textLength="114" lengthAdjust="spacingAndGlyphs">pGensil-1-S100A7</text>
<rect x="861.4" y="984.4" width="32.5" height="106.9" fill="#e41f76"/>
<path d="M877.65,984.4 V977.4 M870.8,977.4 H884.5" stroke="#e41f76" stroke-width="1.3"/>
<rect x="910.2" y="1029" width="31.8" height="62.3" fill="#f0801f"/>
<path d="M926.1,1029 V1021.5 M919.2,1021.5 H933" stroke="#f0801f" stroke-width="1.3"/>
<path class="ax" d="M843.7,930.8 V1091.3 M838,1091.3 H959 M838.9,930.8 H843.7 M838.9,984.3 H843.7 M838.9,1037.8 H843.7 M877,1091.3 V1098.3 M926.4,1091.3 V1098.3"/>
<path class="br" d="M877.7,971.4 V961 H930 V971.4"/>
<text class="st21" x="903.5" y="964.5" text-anchor="middle">**</text>
<g class="tk" text-anchor="end"><text x="837.6" y="934.8">1.5</text><text x="837.6" y="988.3">1.0</text><text x="837.6" y="1041.8">0.5</text><text x="837.6" y="1095.3">0.0</text></g>
<text class="yl" transform="translate(811.9,1010) rotate(-90)" text-anchor="middle" textLength="154" lengthAdjust="spacingAndGlyphs">MMP9 mRNA expression</text>
<text class="xld" transform="translate(884,1109) rotate(-45)" text-anchor="end" textLength="88" lengthAdjust="spacingAndGlyphs">pGensil-1-KB</text>
<text class="xld" transform="translate(933.4,1109) rotate(-45)" text-anchor="end" textLength="114" lengthAdjust="spacingAndGlyphs">pGensil-1-S100A7</text>

<!-- ============ PANEL E ============ -->
<text class="pl" x="8.5" y="1246" style="font-size:28px">E</text>
<text class="ttl" x="229.5" y="1226" text-anchor="middle" textLength="46" lengthAdjust="spacingAndGlyphs">MCF7</text>
<text class="ttl" x="778" y="1226" text-anchor="middle" textLength="102" lengthAdjust="spacingAndGlyphs">MDA-MB-231</text>
<text class="hd" x="123.4" y="1248" text-anchor="middle" textLength="101" lengthAdjust="spacingAndGlyphs">pGensil-1-KB</text>
<text class="hd" x="334.2" y="1248" text-anchor="middle" textLength="138" lengthAdjust="spacingAndGlyphs">pGensil-1-S100A7</text>
<text class="hd" x="665.8" y="1248" text-anchor="middle" textLength="101" lengthAdjust="spacingAndGlyphs">pGensil-1-KB</text>
<text class="hd" x="880.5" y="1248" text-anchor="middle" textLength="138.6" lengthAdjust="spacingAndGlyphs">pGensil-1-S100A7</text>
<text class="lt" transform="translate(16,1351.5) rotate(-90)" text-anchor="middle" textLength="47.5" lengthAdjust="spacingAndGlyphs">0 hour</text>
<text class="lt" transform="translate(16,1485) rotate(-90)" text-anchor="middle" textLength="57" lengthAdjust="spacingAndGlyphs">24 hour</text>

<rect x="38.8" y="1262.3" width="197.8" height="146.7" filter="url(#fE1)"/>
<path d="M123.3,1262.3 L155.4,1262.3 L154.2,1290 L156,1320 L154.5,1350 L156.8,1380 L156,1409 L129.2,1409 L128,1380 L126.5,1350 L125.8,1320 L124.3,1290 Z" fill="#6c6c6c" stroke="#2b45d6" stroke-width="0.7"/>
<rect x="241.5" y="1262.3" width="198" height="146.7" filter="url(#fE1b)"/>
<path d="M329.7,1262.3 L353.8,1262.3 L354.5,1300 L356.5,1340 L358.5,1380 L360.5,1409 L333.7,1409 L333,1370 L331.5,1330 L330.5,1295 Z" fill="#6a6a6a" stroke="#2b45d6" stroke-width="0.7"/>
<rect x="38.8" y="1412.9" width="197.8" height="146.8" filter="url(#fE2)"/>
<path d="M133,1412.9 L132,1430 L134,1445 L131,1460 L135,1475 L133,1495 L137,1515 L134,1540 L136,1559.7 L146,1559.7 L148,1540 L146,1520 L150,1505 L146,1485 L149,1465 L144,1450 L147,1430 L144,1412.9 Z" fill="#9a9a9a" stroke="#2b45d6" stroke-width="0.7"/>
<rect x="241.5" y="1412.9" width="198" height="146.8" filter="url(#fE2b)"/>
<path d="M327,1412.9 L343.1,1412.9 L342,1440 L345,1470 L343,1490 L347,1515 L352,1535 L360.5,1559.7 L333.7,1559.7 L333,1535 L331,1505 L332,1475 L329,1445 Z" fill="#9e9e9e" stroke="#2b45d6" stroke-width="0.7"/>
<g fill="#8b3a24"><rect x="193.5" y="1402.4" width="39" height="3"/><rect x="396.5" y="1402.4" width="39" height="3"/><rect x="193.5" y="1553.2" width="39" height="3"/><rect x="396.5" y="1553.2" width="39" height="3"/></g>

<rect x="572.5" y="1263" width="198" height="147.2" filter="url(#fM1)"/>
<path d="M646,1263 L697.5,1263 L697,1300 L698.5,1340 L697,1380 L697.5,1410.2 L646.5,1410.2 L645.5,1380 L647,1340 L645.5,1300 Z" fill="#ced3cb"/>
<path d="M646,1263 L645.5,1300 L647,1340 L645.5,1380 L646.5,1410.2 M697.5,1263 L697,1300 L698.5,1340 L697,1380 L697.5,1410.2" stroke="#111" stroke-width="0.6" fill="none"/>
<rect x="774.5" y="1263" width="198" height="147.2" filter="url(#fM1)"/>
<path d="M847,1263 L846,1300 L844,1335 L843,1360 L840.5,1385 L839,1410.2 L896.7,1410.2 L897.5,1370 L899,1330 L903,1290 L906,1263 Z" fill="#cacfc7"/>
<path d="M847,1263 L846,1300 L844,1335 L843,1360 L840.5,1385 L839,1410.2 M906,1263 L903,1290 L899,1330 L897.5,1370 L896.7,1410.2" stroke="#111" stroke-width="0.6" fill="none"/>
<rect x="572.5" y="1413.5" width="198" height="147.4" filter="url(#fM2)"/>
<path d="M662.2,1413.5 L665,1425 L662,1445 L664,1465 L660,1485 L663,1505 L659,1530 L656.8,1560.9 L670.2,1560.9 L672,1530 L670,1505 L675,1485 L671,1465 L676,1445 L674,1425 L678.2,1413.5 Z" fill="#cfd4d0"/>
<path d="M662.2,1413.5 L665,1425 L662,1445 L664,1465 L660,1485 L663,1505 L659,1530 L656.8,1560.9 M678.2,1413.5 L674,1425 L676,1445 L671,1465 L675,1485 L670,1505 L672,1530 L670.2,1560.9" stroke="#111" stroke-width="0.6" fill="none"/>
<rect x="774.5" y="1413.5" width="198" height="147.4" filter="url(#fM2)"/>
<path d="M848.5,1413.5 L848,1450 L849,1490 L846,1530 L840.4,1560.9 L892.7,1560.9 L891,1530 L889,1500 L891,1470 L888,1440 L890,1413.5 Z" fill="#ccd2cf"/>
<path d="M848.5,1413.5 L848,1450 L849,1490 L846,1530 L840.4,1560.9 M890,1413.5 L888,1440 L891,1470 L889,1500 L891,1530 L892.7,1560.9" stroke="#111" stroke-width="0.6" fill="none"/>
<g fill="#8a9a9c"><circle cx="862" cy="1490" r="1.5"/><circle cx="870" cy="1512" r="1.2"/><circle cx="856" cy="1535" r="1.5"/><circle cx="878" cy="1470" r="1"/></g>
<g fill="#8b3a24"><rect x="725.2" y="1402.4" width="39" height="3.2"/><rect x="927.2" y="1402.4" width="39" height="3.2"/><rect x="725.2" y="1553.2" width="39" height="3.2"/><rect x="927.2" y="1553.2" width="39" height="3.2"/></g>

<!-- E chart 1 -->
<rect x="498.6" y="1349.2" width="22.6" height="92.6" fill="#1f4ea5"/>
<path d="M509.9,1349.2 V1345.3 M505.4,1345.3 H514.4" stroke="#1f4ea5" stroke-width="1"/>
<rect x="533.2" y="1403.8" width="23.4" height="38" fill="#e8161c"/>
<path d="M544.9,1403.8 V1400.3 M540.4,1400.3 H549.4" stroke="#e8161c" stroke-width="1"/>
<path class="axe" d="M485.1,1319.5 V1441.8 M481.5,1319.5 H485.1 M481.5,1343.9 H485.1 M481.5,1368.4 H485.1 M481.5,1392.9 H485.1 M481.5,1417.3 H485.1 M509.2,1441.8 V1446.5 M545.3,1441.8 V1446.5"/>
<path d="M479.5,1441.8 H569.3" stroke="#1a1a1a" stroke-width="2"/>
<path class="bre" d="M509.2,1341.6 V1335.3 H546.7 V1341.6"/>
<text class="st16" x="528.3" y="1337" text-anchor="middle">***</text>
<g class="tke" text-anchor="end"><text x="480.5" y="1322.9">100</text><text x="480.5" y="1347.3">80</text><text x="480.5" y="1371.8">60</text><text x="480.5" y="1396.3">40</text><text x="480.5" y="1420.7">20</text><text x="480.5" y="1445.2">0</text></g>
<text class="yle" transform="translate(461,1381) rotate(-90)" text-anchor="middle" textLength="144" lengthAdjust="spacingAndGlyphs">Wound healing percentage(%)</text>
<text class="xle" transform="translate(515.5,1459.5) rotate(-45)" text-anchor="end" textLength="63" lengthAdjust="spacingAndGlyphs">pGensil-1-KB</text>
<text class="xle" transform="translate(551.5,1461) rotate(-45)" text-anchor="end" textLength="82" lengthAdjust="spacingAndGlyphs">pGensil-1-S100A7</text>
<!-- E chart 2 -->
<rect x="1034" y="1343.9" width="22.6" height="98.6" fill="#1f4ea5"/>
<path d="M1045.3,1343.9 V1341.6 M1040.8,1341.6 H1049.8" stroke="#1f4ea5" stroke-width="1"/>
<rect x="1067.9" y="1414.2" width="22.6" height="28.3" fill="#e8161c"/>
<path d="M1079.2,1414.2 V1410.5 M1074.7,1410.5 H1083.7" stroke="#e8161c" stroke-width="1"/>
<path class="axe" d="M1019.8,1320 V1442.5 M1016.2,1320 H1019.8 M1016.2,1344.5 H1019.8 M1016.2,1369 H1019.8 M1016.2,1393.5 H1019.8 M1016.2,1418 H1019.8 M1044.6,1442.5 V1447.2 M1078.5,1442.5 V1447.2"/>
<path d="M1015.6,1442.5 H1101.8" stroke="#1a1a1a" stroke-width="2"/>
<path class="bre" d="M1045.3,1336.5 V1330.5 H1080 V1336.5"/>
<text class="st16" x="1062.6" y="1332.2" text-anchor="middle">***</text>
<g class="tke" text-anchor="end"><text x="1015.2" y="1323.4">100</text><text x="1015.2" y="1347.9">80</text><text x="1015.2" y="1372.4">60</text><text x="1015.2" y="1396.9">40</text><text x="1015.2" y="1421.4">20</text><text x="1015.2" y="1445.9">0</text></g>
<text class="yle" transform="translate(998.6,1381) rotate(-90)" text-anchor="middle" textLength="144" lengthAdjust="spacingAndGlyphs">Wound healing percentage(%)</text>
<text class="xle" transform="translate(1050.6,1460) rotate(-45)" text-anchor="end" textLength="61" lengthAdjust="spacingAndGlyphs">pGensil-1-KB</text>
<text class="xle" transform="translate(1084.5,1461.5) rotate(-45)" text-anchor="end" textLength="80" lengthAdjust="spacingAndGlyphs">pGensil-1-S100A7</text>
</svg>
</body></html>
